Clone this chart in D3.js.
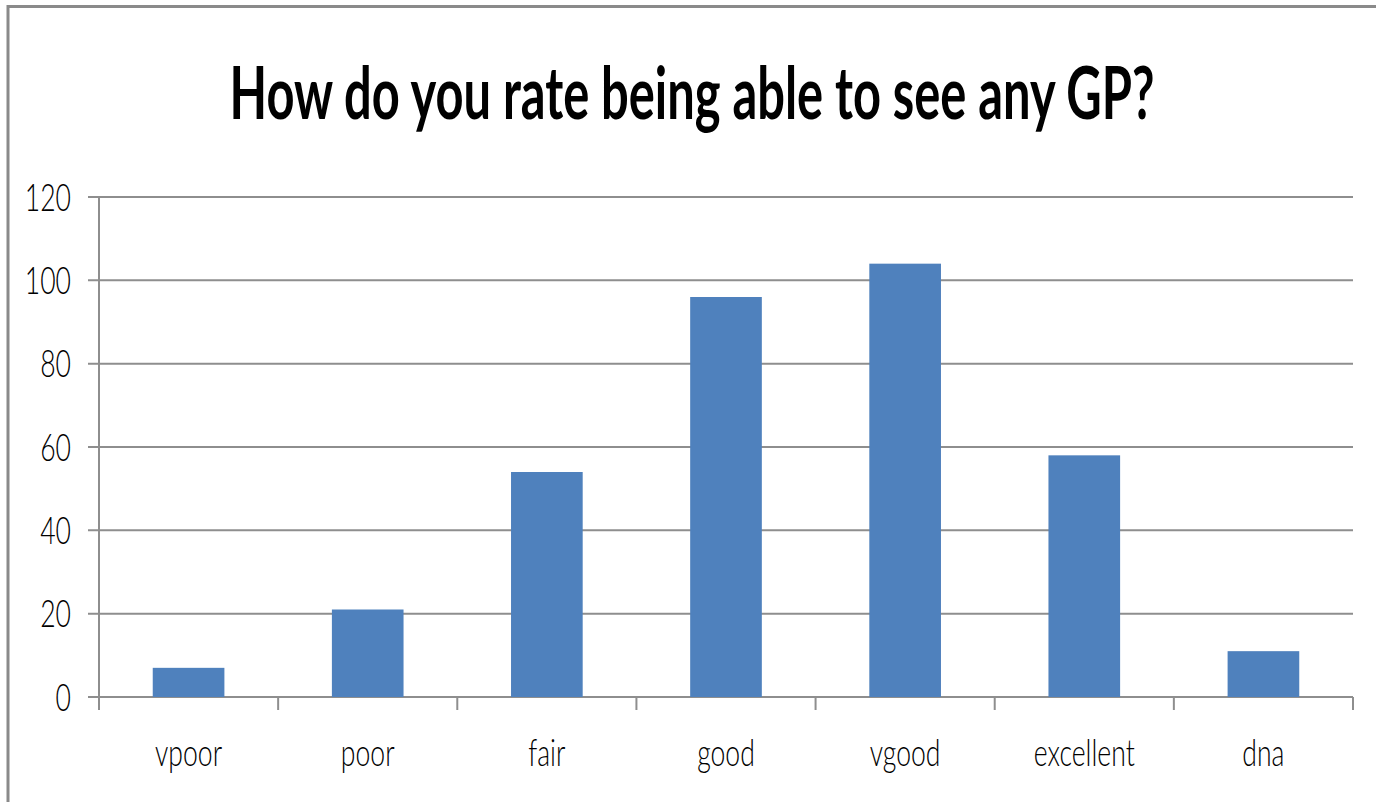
<!DOCTYPE html>
<html>
<head>
<meta charset="utf-8">
<script src="https://cdn.jsdelivr.net/npm/d3@7/dist/d3.min.js"></script>
<style>
  html, body { margin: 0; padding: 0; background: #fff; }
  svg { display: block; }
  text { font-family: Lato, "Liberation Sans", Arial, sans-serif; fill: #000; }
</style>
</head>
<body>
<svg id="chart" width="1376" height="802"></svg>
<script>
// Survey answers: "How do you rate being able to see any GP?"
const categories = ["vpoor", "poor", "fair", "good", "vgood", "excellent", "dna"];
const counts = [7, 21, 54, 96, 104, 58, 11];
const yTicks = [0, 20, 40, 60, 80, 100, 120];
const title = "How do you rate being able to see any GP?";

const svg = d3.select("#chart");
const W = 1376, H = 802;
const plot = { left: 99, right: 1353, top: 197, bottom: 697 };
const squeeze = 0.7;           // narrow text, like a condensed face
const gridColor = "#8e8e8e";

// outer frame (top and left edges visible)
svg.append("path")
  .attr("d", `M8,${H} L8,6.5 L${W},6.5`)
  .attr("fill", "none")
  .attr("stroke", "#8a8a8a")
  .attr("stroke-width", 3);

// title, narrowed to span 230..1155
const titleG = svg.append("g");
const titleText = titleG.append("text")
  .attr("x", 0)
  .attr("y", 0)
  .attr("text-anchor", "middle")
  .attr("font-size", 72)
  .attr("font-weight", "bold")
  .text(title);
const natural = titleText.node().getComputedTextLength();
titleG.attr("transform", `translate(692,119) scale(${925 / natural},1)`);

const x = d3.scaleBand()
  .domain(categories)
  .range([plot.left, plot.right])
  .paddingInner(0.6)
  .paddingOuter(0.3);

const y = d3.scaleLinear()
  .domain([0, 120])
  .range([plot.bottom, plot.top]);

// horizontal gridlines with left tick stubs
svg.append("g")
  .selectAll("line")
  .data(yTicks)
  .join("line")
  .attr("x1", plot.left - 11)
  .attr("x2", plot.right)
  .attr("y1", d => y(d))
  .attr("y2", d => y(d))
  .attr("stroke", gridColor)
  .attr("stroke-width", 2);

// vertical axis line
svg.append("line")
  .attr("x1", plot.left).attr("x2", plot.left)
  .attr("y1", plot.top).attr("y2", plot.bottom + 13)
  .attr("stroke", gridColor)
  .attr("stroke-width", 2);

// category boundary ticks below the baseline
const step = x.step();
const boundaries = d3.range(categories.length + 1).map(i => plot.left + i * step);
svg.append("g")
  .selectAll("line")
  .data(boundaries.slice(1))
  .join("line")
  .attr("x1", d => d).attr("x2", d => d)
  .attr("y1", plot.bottom).attr("y2", plot.bottom + 13)
  .attr("stroke", gridColor)
  .attr("stroke-width", 2);

// bars
svg.append("g")
  .selectAll("rect")
  .data(categories.map((c, i) => ({ c, v: counts[i] })))
  .join("rect")
  .attr("x", d => x(d.c))
  .attr("y", d => y(d.v))
  .attr("width", x.bandwidth())
  .attr("height", d => y(0) - y(d.v))
  .attr("fill", "#4f81bd");

// y tick labels
svg.append("g")
  .attr("transform", `scale(${squeeze},1)`)
  .selectAll("text")
  .data(yTicks)
  .join("text")
  .attr("x", 71 / squeeze)
  .attr("y", d => y(d))
  .attr("dy", "0.36em")
  .attr("text-anchor", "end")
  .attr("font-size", 38)
  .attr("font-weight", 300)
  .text(d => d);

// category labels
svg.append("g")
  .attr("transform", `scale(${squeeze},1)`)
  .selectAll("text")
  .data(categories)
  .join("text")
  .attr("x", d => (x(d) + x.bandwidth() / 2) / squeeze)
  .attr("y", 766)
  .attr("text-anchor", "middle")
  .attr("font-size", 38)
  .attr("font-weight", 300)
  .text(d => d);
</script>
</body>
</html>
